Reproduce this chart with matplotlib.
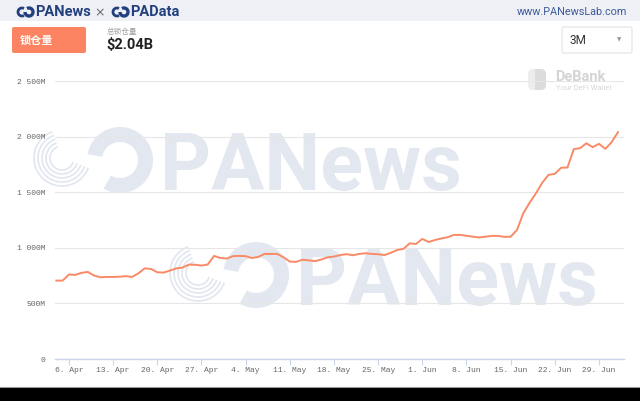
import pandas as pd
import matplotlib.pyplot as plt
from matplotlib.patches import FancyBboxPatch, Rectangle, Wedge, Arc
from matplotlib.ticker import FuncFormatter

# Total value locked, daily, in millions of USD (Apr 4 -> Jul 2)
start_day = '2020-04-04'
tvl_musd = [
    705, 705, 760, 756, 775, 783, 750, 735, 738, 738,
    740, 745, 738, 770, 815, 810, 780, 777, 795, 815,
    822, 849, 848, 840, 850, 927, 909, 903, 925, 927,
    925, 908, 918, 945, 945, 945, 915, 876, 873, 893,
    887, 880, 895, 915, 921, 935, 943, 933, 945, 951,
    945, 942, 935, 955, 980, 990, 1040, 1035, 1080, 1052,
    1070, 1084, 1095, 1116, 1116, 1108, 1100, 1093, 1100, 1107,
    1107, 1098, 1100, 1160, 1311, 1405, 1490, 1585, 1656, 1665,
    1720, 1722, 1887, 1896, 1940, 1905, 1935, 1890, 1950, 2040,
]
y_ticks_musd = [0, 500, 1000, 1500, 2000, 2500]
y_tick_labels = ['0', '500M', '1 000M', '1 500M', '2 000M', '2 500M']
tick_start, tick_end = '2020-04-06', '2020-06-29'

header_left = ['PANews', 'PAData']
header_url = 'www.PANewsLab.com'
tab_label = '锁仓量'
summary_title = '总锁仓量'
summary_value = '$2.04B'
range_label = '3M'
watermark = 'PANews'

W, H = 640, 401
LINE_COLOR = '#fa8a66'
WM_COLOR = '#e3e8f0'
CJK = ['Noto Sans CJK SC', 'DejaVu Sans']

dates = pd.date_range(start_day, periods=len(tvl_musd), freq='D')
week_ticks = pd.date_range(tick_start, tick_end, freq='7D')

fig = plt.figure(figsize=(W / 100, H / 100), dpi=100)
fig.patch.set_facecolor('white')

# background layer in pixel coordinates (decorations, watermarks)
bg = fig.add_axes([0, 0, 1, 1], zorder=0)
bg.set_xlim(0, W)
bg.set_ylim(H, 0)
bg.axis('off')

# header band
bg.add_patch(Rectangle((0, 0), W, 21, color='#eef0f5', lw=0))
navy = '#22407d'
for cx in (25, 120):
    bg.add_patch(Arc((cx - 3, 12), 8, 8, theta1=60, theta2=300, color=navy, lw=2))
    bg.add_patch(Arc((cx + 4, 12), 8, 8, theta1=-120, theta2=180, color=navy, lw=2.4))
bg.text(35, 12.5, header_left[0], fontsize=10.5, fontweight='bold', color=navy,
        va='center', ha='left', family='Roboto')
bg.text(100, 12.5, '×', fontsize=9, color='#667', va='center', ha='center')
bg.text(130, 12.5, header_left[1], fontsize=10.5, fontweight='bold', color=navy,
        va='center', ha='left', family='Roboto')
bg.text(627, 12, header_url, fontsize=7.8, color='#3d5b9a', va='center', ha='right',
        family='Roboto')

# tab button and summary
bg.add_patch(FancyBboxPatch((12, 27), 74, 26, boxstyle='round,pad=0,rounding_size=2',
                            fc='#fd8462', ec='none'))
bg.text(20, 40.5, tab_label, fontsize=8, fontweight='bold', color='white',
        va='center', ha='left', family=CJK)
bg.text(107, 32, summary_title, fontsize=5.5, color='#a0a0a0', va='center', ha='left',
        family=CJK)
bg.text(106, 45, summary_value, fontsize=10.5, color='#222222', va='center', ha='left',
        family='Roboto', fontweight='bold')

# range dropdown
bg.add_patch(FancyBboxPatch((562, 27), 70, 26, boxstyle='round,pad=0,rounding_size=2',
                            fc='white', ec='#e3e3e3', lw=0.8))
bg.text(569, 41, range_label, fontsize=8.5, color='#333333', va='center', ha='left',
        family='Roboto')
bg.text(619, 40, '▼', fontsize=4, color='#999999', va='center', ha='center')

# DeBank watermark
bg.add_patch(FancyBboxPatch((528, 69), 18, 21, boxstyle='round,pad=0,rounding_size=5',
                            fc='#dcdcdc', ec='none'))
bg.add_patch(Rectangle((528, 69), 7, 21, color='white', lw=0, alpha=0.5))
bg.text(555, 77, 'DeBank', fontsize=10.5, fontweight='bold', color='#d4d4d4',
        va='center', ha='left', family='Roboto')
bg.text(556, 88.5, 'Your DeFi Wallet', fontsize=5.5, color='#d8d8d8',
        va='center', ha='left', family='Roboto')

# PANews watermarks with logo
for tx, base in ((160, 190), (296, 305)):
    bg.text(tx, base, watermark, fontsize=57, fontweight='bold', color=WM_COLOR,
            va='baseline', ha='left', family='Roboto')
    bg.add_patch(Wedge((tx - 40, base - 30), 33, -170, 120, width=15,
                       color=WM_COLOR, lw=0))
    for r in range(12, 32, 4):
        bg.add_patch(Arc((tx - 98, base - 32), 2 * r, 2 * r, theta1=20, theta2=250,
                         color=WM_COLOR, lw=1.3))

# bottom black band
bg.add_patch(Rectangle((0, 387), W, 14, color='black', lw=0))
bg.plot([0, W], [386.5, 386.5], color='#999999', lw=0.8)

# main chart
ax = fig.add_axes([55 / W, (H - 359) / H, (624 - 55) / W, (359 - 81) / H], zorder=1)
ax.patch.set_alpha(0)
ax.plot(dates, tvl_musd, color=LINE_COLOR, lw=1.4, solid_joinstyle='round', zorder=3)

ax.set_ylim(0, 2500)
ax.set_xlim(dates[0] - pd.Timedelta(hours=5), dates[-1] + pd.Timedelta(hours=23))
ax.set_yticks(y_ticks_musd)
ax.set_yticklabels(y_tick_labels)
ax.set_xticks(week_ticks)
ax.xaxis.set_major_formatter(FuncFormatter(
    lambda v, pos: f"{week_ticks[pos].day}. {week_ticks[pos].strftime('%b')}"
    if pos is not None and pos < len(week_ticks) else ''))

for side in ('top', 'right', 'left'):
    ax.spines[side].set_visible(False)
ax.spines['bottom'].set_color('#ccd6eb')
ax.spines['bottom'].set_linewidth(1)
ax.grid(axis='y', color='#e6e6e6', lw=0.8)
ax.set_axisbelow(True)
ax.tick_params(axis='y', length=0, pad=7, labelsize=5.8, labelcolor='#666666')
ax.tick_params(axis='x', length=4, width=0.8, color='#ccd6eb', pad=1.5,
               labelsize=5.8, labelcolor='#666666')
for lab in ax.get_xticklabels() + ax.get_yticklabels():
    lab.set_family('Liberation Mono')

fig.savefig('out.png', dpi=100, facecolor='white')
